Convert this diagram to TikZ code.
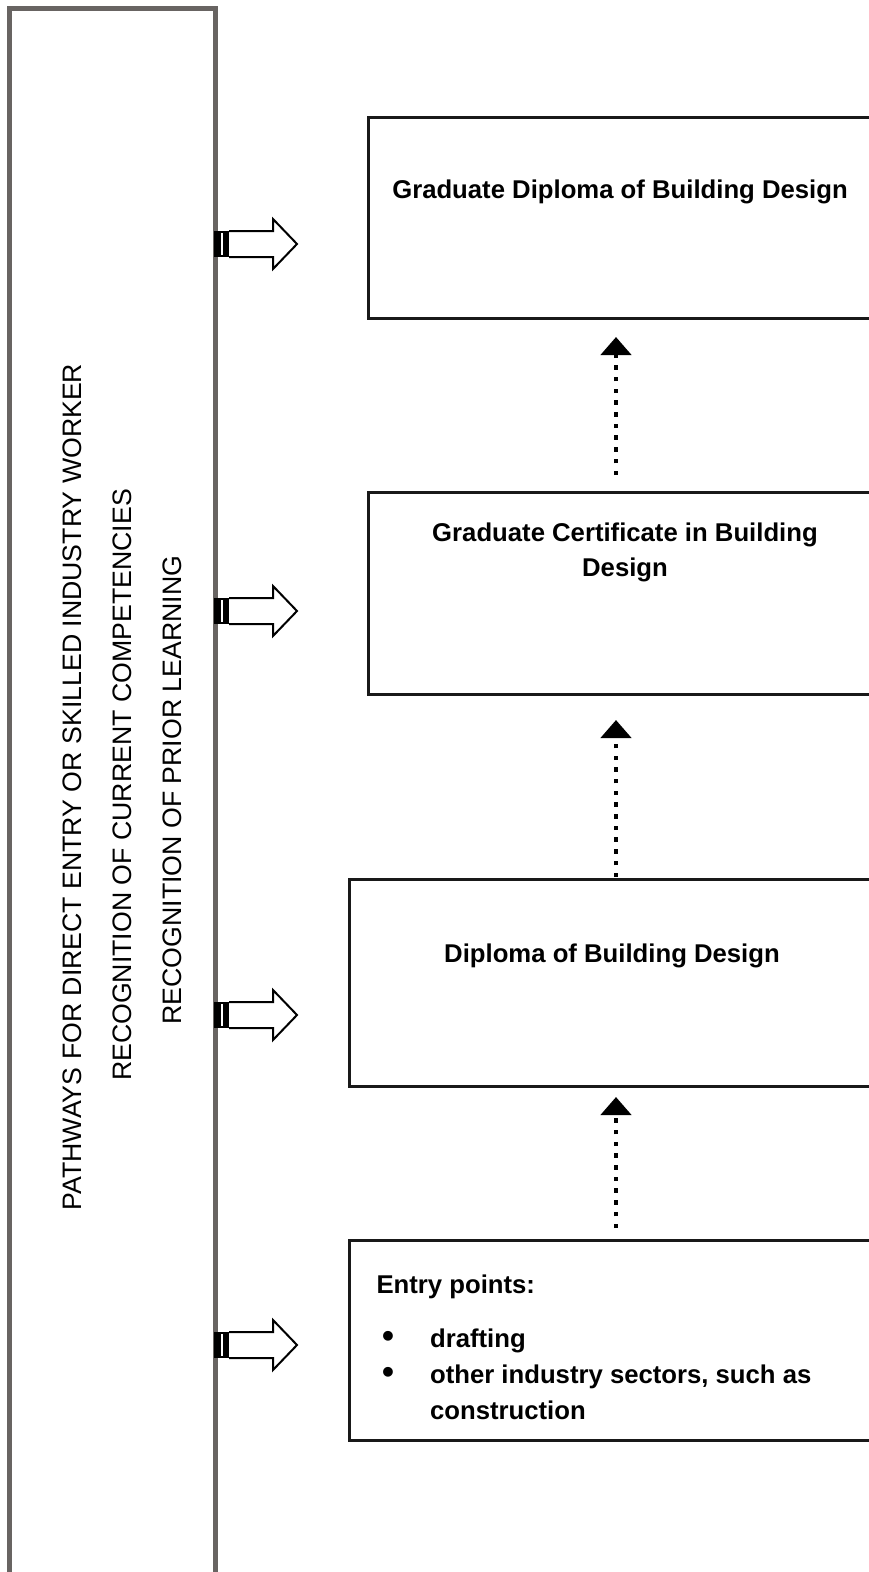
\documentclass[tikz,border=0pt]{standalone}
\usepackage{fontspec}
\setmainfont{Liberation Sans}
\usetikzlibrary{arrows.meta}

\definecolor{panelgray}{HTML}{686462}

\begin{document}
\begin{tikzpicture}[x=1pt,y=-1pt,
  level/.style={draw=black!90,line width=3pt,inner sep=0pt},
  label/.style={font=\fontsize{25.7}{35}\selectfont\bfseries,align=center,anchor=base},
  side/.style={font=\fontsize{26.7}{30}\selectfont,rotate=90},
  up/.style={line width=4.5pt,dash pattern=on 4.5pt off 7.2pt,-{Triangle[width=30pt,length=18pt]}}]
\useasboundingbox[fill=white] (0,0) rectangle (869,1572);

% left panel
\node[draw=panelgray,line width=5pt,minimum width=206pt,minimum height=1580pt,inner sep=0pt]
  (panel) at (112,798) {};
\node[side] (path) at (72,787) {PATHWAYS FOR DIRECT ENTRY OR SKILLED INDUSTRY WORKER};
\node[side] (rcc) at (122,785) {RECOGNITION OF CURRENT COMPETENCIES};
\node[side] (rpl) at (172,790) {RECOGNITION OF PRIOR LEARNING};

% levels, cut at the right edge
\node[level,minimum width=532pt,minimum height=201pt] (gdip) at (634,217.5) {};
\node[level,minimum width=532pt,minimum height=202pt] (gcert) at (634,593) {};
\node[level,minimum width=551pt,minimum height=207pt] (dip) at (624.5,982.5) {};
\node[level,minimum width=551pt,minimum height=200pt] (entry) at (624.5,1340) {};

\node[label] (gdipt) at (620,198) {Graduate Diploma of Building Design};
\node[label] (gcertt) at (625,576) {Graduate Certificate in Building\\Design};
\node[label] (dipt) at (612,962) {Diploma of Building Design};
\node[label,anchor=base west] (entryt) at (373,1293) {Entry points:};
\node[font=\fontsize{25.7}{36}\selectfont\bfseries,anchor=base west,inner sep=0pt]
  (entryl) at (382,1347) {%
  \begin{tabular}[t]{@{}l@{\hspace{36pt}}l@{}}
  {\fontsize{34}{36}\selectfont\textbullet} & drafting\\
  {\fontsize{34}{36}\selectfont\textbullet} & other industry sectors, such as\\
              & construction
  \end{tabular}};

% dotted steps up
\coordinate (s1) at (616,475);
\coordinate (t1) at (616,337);
\coordinate (s2) at (616,877);
\coordinate (t2) at (616,720);
\coordinate (s3) at (616,1228);
\coordinate (t3) at (616,1097);
\draw[up] (s1) -- (t1);
\draw[up] (s2) -- (t2);
\draw[up] (s3) -- (t3);

% block arrows out of the panel
\foreach \y/\n in {244/a, 611/b, 1015/c, 1345/d} {
  \fill (214,\y-13) rectangle (229,\y+13);
  \draw[white,line width=1.5pt] (222,\y-11) -- (222,\y+11);
  \draw[line width=2pt,line join=miter] (229,\y-13) -- (273,\y-13) -- (273,\y-25)
    -- (297,\y) -- (273,\y+25) -- (273,\y+13) -- (229,\y+13);
  \coordinate (\n) at (297,\y);
}
\end{tikzpicture}
\end{document}
